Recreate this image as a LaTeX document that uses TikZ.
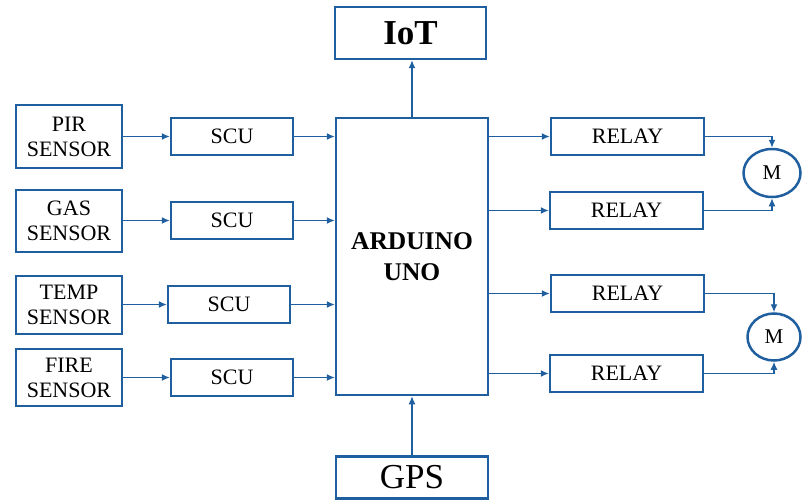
\documentclass[tikz,border=0pt]{standalone}
\usepackage{fontspec}
\setmainfont{Liberation Serif}
\usetikzlibrary{arrows.meta,shapes.geometric}
\definecolor{bl}{RGB}{31,95,160}
\tikzset{
  box/.style={draw=bl,line width=2.5pt,fill=white,rectangle,inner sep=0pt,align=center,font=\fontsize{22}{25}\selectfont},
  mot/.style={draw=bl,line width=2.5pt,fill=white,ellipse,inner sep=0pt,font=\fontsize{21}{24}\selectfont},
  arr/.style={draw=bl,line width=1.3pt,-{Latex[length=8pt,width=7pt]}}
}
\begin{document}
\begin{tikzpicture}[x=1pt,y=-1pt]
\useasboundingbox (0,0) rectangle (802,500);
% sensors
\node[box,minimum width=106pt,minimum height=63pt] (pir) at (69,136.5) {PIR\\SENSOR};
\node[box,minimum width=106pt,minimum height=62pt] (gas) at (69,221) {GAS\\SENSOR};
\node[box,minimum width=106pt,minimum height=58pt] (temp) at (69,305) {TEMP\\SENSOR};
\node[box,minimum width=106pt,minimum height=57pt] (fire) at (69,377.5) {FIRE\\SENSOR};
% SCUs
\node[box,minimum width=122pt,minimum height=37pt] (s1) at (232,136.5) {SCU};
\node[box,minimum width=122pt,minimum height=37pt] (s2) at (232,220.5) {SCU};
\node[box,minimum width=122pt,minimum height=37pt] (s3) at (229,304.5) {SCU};
\node[box,minimum width=122pt,minimum height=37pt] (s4) at (232,377.5) {SCU};
% arduino
\node[box,minimum width=152pt,minimum height=277pt,font=\fontsize{25.5}{31}\selectfont\bfseries] (ard) at (412,256.5) {ARDUINO\\UNO};
\node[box,minimum width=151pt,minimum height=52pt,font=\fontsize{35}{40}\selectfont\bfseries] (iot) at (410.5,33) {IoT};
\node[box,minimum width=152pt,minimum height=42pt,font=\fontsize{35}{40}\selectfont] (gps) at (412,477.5) {GPS};
% relays
\node[box,minimum width=153pt,minimum height=37pt] (r1) at (627.5,136.5) {RELAY};
\node[box,minimum width=153pt,minimum height=37pt] (r2) at (626.5,210.5) {RELAY};
\node[box,minimum width=153pt,minimum height=37pt] (r3) at (627.5,293.5) {RELAY};
\node[box,minimum width=153pt,minimum height=37pt] (r4) at (626.5,373.5) {RELAY};
% motors
\node[mot,minimum width=57pt,minimum height=48pt] (m1) at (772,173) {M};
\node[mot,minimum width=53pt,minimum height=47pt] (m2) at (774,337) {M};
% connectors
\draw[arr] (pir.east |- s1.west) -- (s1.west);
\draw[arr] (gas.east |- s2.west) -- (s2.west);
\draw[arr] (temp.east |- s3.west) -- (s3.west);
\draw[arr] (fire.east |- s4.west) -- (s4.west);
\draw[arr] (s1.east) -- (s1.east -| ard.west);
\draw[arr] (s2.east) -- (s2.east -| ard.west);
\draw[arr] (s3.east) -- (s3.east -| ard.west);
\draw[arr] (s4.east) -- (s4.east -| ard.west);
\draw[arr] (ard.east |- r1.west) -- (r1.west);
\draw[arr] (ard.east |- r2.west) -- (r2.west);
\draw[arr] (ard.east |- r3.west) -- (r3.west);
\draw[arr] (ard.east |- r4.west) -- (r4.west);
\draw[arr] (r1.east) -| (m1.north);
\draw[arr] (r2.east) -| (m1.south);
\draw[arr] (r3.east) -| (m2.north);
\draw[arr] (r4.east) -| (m2.south);
\draw[arr] (ard.north) -- (ard.north |- iot.south);
\draw[arr] (gps.north) -- (gps.north |- ard.south);
\end{tikzpicture}
\end{document}
